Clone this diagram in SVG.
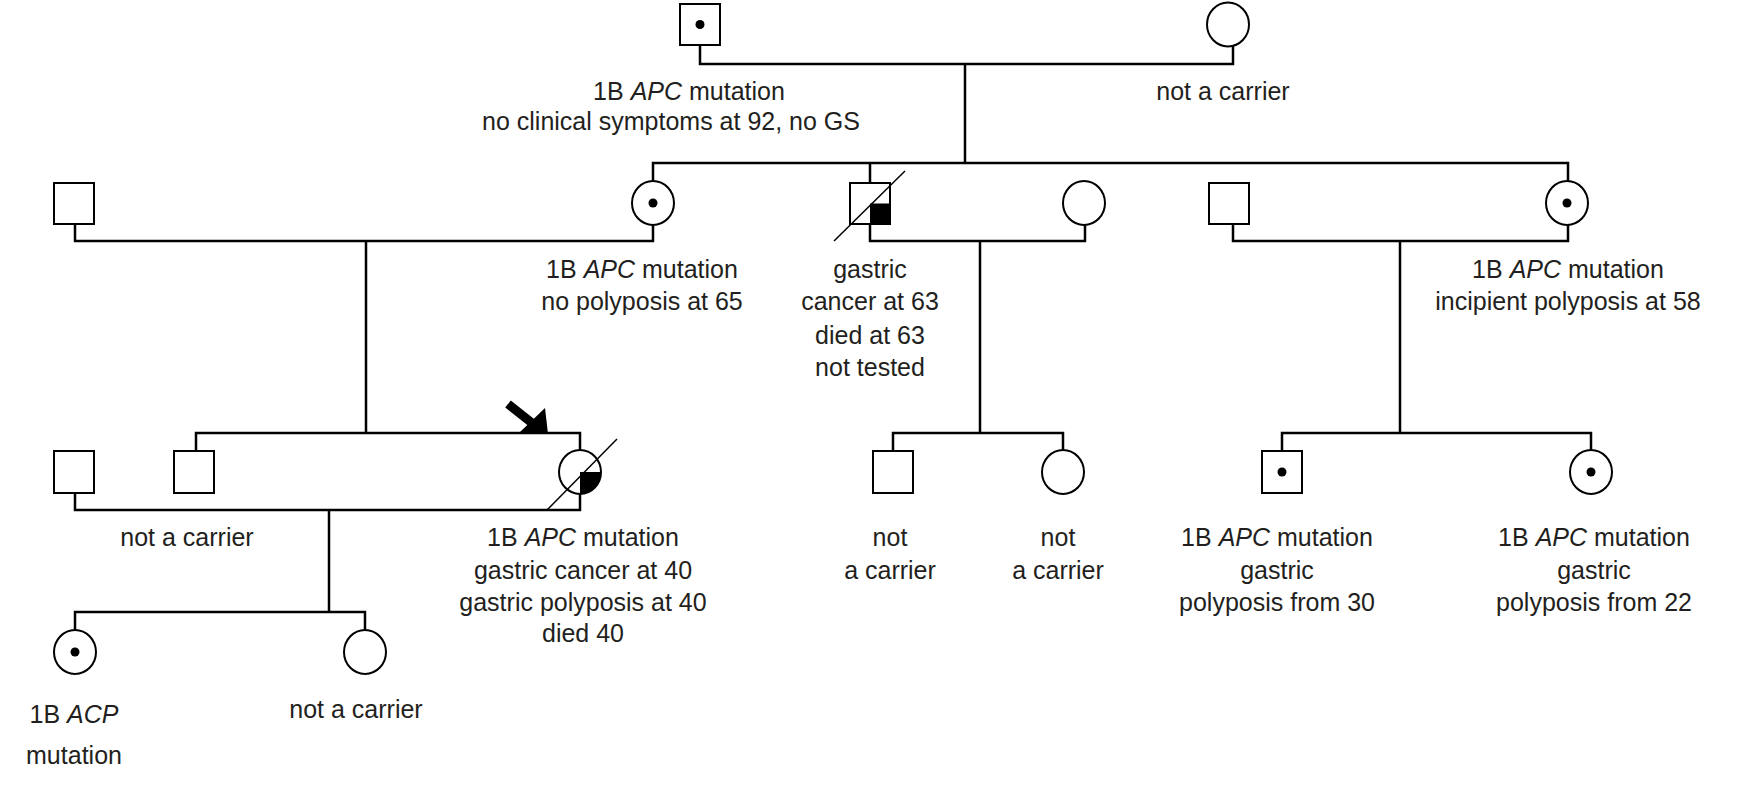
<svg xmlns="http://www.w3.org/2000/svg" width="1755" height="800" viewBox="0 0 1755 800">
<style>
.s{fill:#fff;stroke:#000;stroke-width:2}
.l{fill:none;stroke:#000;stroke-width:2.5}
.d{fill:#000}
text{font-family:"Liberation Sans",Arial,sans-serif;font-size:25px;text-anchor:middle;fill:#231f20}
</style>
<rect width="1755" height="800" fill="#fff"/>
<g id="connectors">
<path class="l" d="M700 45V64H1233V46M965 64V163M653 182V163H1568V182M870 163V182"/>
<path class="l" d="M75 224V241H653V225M366 241V433M870 224V241H1085V225M980 241V433M1233 224V241H1568V225M1400 241V433"/>
<path class="l" d="M196 451V433H580V450M893 451V433H1063V450M1282 451V433H1591V450"/>
<path class="l" d="M75 493V510H580V494M329 510V612M75 630V612H365V630"/>
</g>
<g id="n1"><rect class="s" x="680" y="4" width="40" height="41"/><circle class="d" cx="700" cy="24.5" r="4.5"/></g>
<g id="n2"><ellipse class="s" cx="1228" cy="24.5" rx="21" ry="22"/></g>
<g id="n3"><rect class="s" x="54" y="183" width="40" height="41"/></g>
<g id="n4"><ellipse class="s" cx="653" cy="203" rx="21" ry="22"/><circle class="d" cx="653" cy="203" r="4.5"/></g>
<g id="n5"><rect class="s" x="850" y="183" width="40" height="41"/><rect class="d" x="870" y="203.5" width="20" height="20.5"/><line x1="834" y1="241" x2="905" y2="171" stroke="#000" stroke-width="1.5"/></g>
<g id="n6"><ellipse class="s" cx="1084" cy="203" rx="21" ry="22"/></g>
<g id="n7"><rect class="s" x="1209" y="183" width="40" height="41"/></g>
<g id="n8"><ellipse class="s" cx="1567" cy="203" rx="21" ry="22"/><circle class="d" cx="1567" cy="203" r="4.5"/></g>
<g id="n9"><rect class="s" x="54" y="451" width="40" height="42"/></g>
<g id="n10"><rect class="s" x="174" y="451" width="40" height="42"/></g>
<g id="n11"><ellipse class="s" cx="580" cy="472" rx="21" ry="22"/><path class="d" d="M580 472H601A21 22 0 0 1 580 494Z"/><line x1="547" y1="510" x2="617" y2="439" stroke="#000" stroke-width="1.5"/><line x1="508" y1="404" x2="532" y2="423" stroke="#000" stroke-width="9"/><polygon class="d" points="548,434 520,432 545,408"/></g>
<g id="n12"><rect class="s" x="873" y="451" width="40" height="42"/></g>
<g id="n13"><ellipse class="s" cx="1063" cy="472" rx="21" ry="22"/></g>
<g id="n14"><rect class="s" x="1262" y="451" width="40" height="42"/><circle class="d" cx="1282" cy="472" r="4.5"/></g>
<g id="n15"><ellipse class="s" cx="1591" cy="472" rx="21" ry="22"/><circle class="d" cx="1591" cy="472" r="4.5"/></g>
<g id="n16"><ellipse class="s" cx="75" cy="652" rx="21" ry="22"/><circle class="d" cx="75" cy="652" r="4.5"/></g>
<g id="n17"><ellipse class="s" cx="365" cy="652" rx="21" ry="22"/></g>
<g id="labels">
<text x="689" y="100">1B <tspan font-style="italic">APC</tspan> mutation</text>
<text x="671" y="130">no clinical symptoms at 92, no GS</text>
<text x="1223" y="100">not a carrier</text>
<text x="642" y="278">1B <tspan font-style="italic">APC</tspan> mutation</text>
<text x="642" y="310">no polyposis at 65</text>
<text x="870" y="278">gastric</text>
<text x="870" y="310">cancer at 63</text>
<text x="870" y="344">died at 63</text>
<text x="870" y="376">not tested</text>
<text x="1568" y="278">1B <tspan font-style="italic">APC</tspan> mutation</text>
<text x="1568" y="310">incipient polyposis at 58</text>
<text x="187" y="546">not a carrier</text>
<text x="583" y="546">1B <tspan font-style="italic">APC</tspan> mutation</text>
<text x="583" y="579">gastric cancer at 40</text>
<text x="583" y="611">gastric polyposis at 40</text>
<text x="583" y="642">died 40</text>
<text x="890" y="546">not</text>
<text x="890" y="579">a carrier</text>
<text x="1058" y="546">not</text>
<text x="1058" y="579">a carrier</text>
<text x="1277" y="546">1B <tspan font-style="italic">APC</tspan> mutation</text>
<text x="1277" y="579">gastric</text>
<text x="1277" y="611">polyposis from 30</text>
<text x="1594" y="546">1B <tspan font-style="italic">APC</tspan> mutation</text>
<text x="1594" y="579">gastric</text>
<text x="1594" y="611">polyposis from 22</text>
<text x="74" y="723">1B <tspan font-style="italic">ACP</tspan></text>
<text x="74" y="764">mutation</text>
<text x="356" y="718">not a carrier</text>
</g>
</svg>
